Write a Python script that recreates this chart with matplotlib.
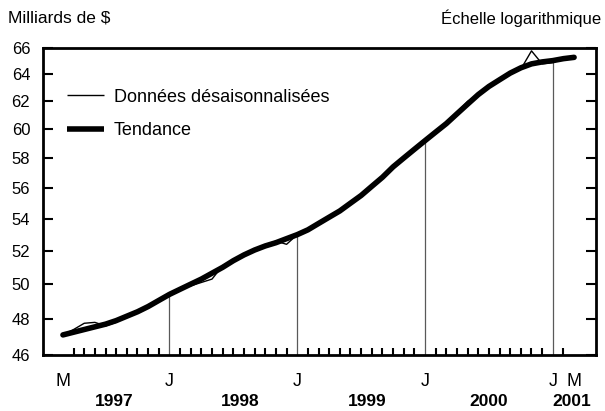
import matplotlib
matplotlib.use("Agg")
import matplotlib.pyplot as plt
import matplotlib.ticker as mticker
import matplotlib.transforms as mtransforms
import numpy as np

plt.rcParams['font.family'] = ['Liberation Sans', 'DejaVu Sans']

# monthly data, March 1997 (0) to March 2001 (48), billions of $
months = np.arange(49)
raw = [47.1, 47.4, 47.75, 47.8, 47.6, 47.8, 48.2, 48.4, 48.75, 49.0,
       49.5, 49.75, 49.9, 50.1, 50.3, 51.1, 51.4, 51.8, 52.0, 52.35,
       52.6, 52.4, 53.0, 53.3, 53.6, 54.1, 54.5, 55.0, 55.5, 56.1,
       56.7, 57.5, 58.0, 58.6, 59.2, 59.8, 60.4, 61.2, 62.0, 62.5,
       63.1, 63.7, 64.0, 64.4, 65.8, 64.8, 64.9, 65.2, 65.3]
trend = [47.1, 47.25, 47.4, 47.55, 47.7, 47.9, 48.15, 48.4, 48.7, 49.05,
         49.4, 49.7, 50.0, 50.3, 50.65, 51.0, 51.4, 51.75, 52.05, 52.3,
         52.5, 52.75, 53.0, 53.3, 53.7, 54.1, 54.5, 55.0, 55.5, 56.1,
         56.7, 57.4, 58.0, 58.6, 59.2, 59.8, 60.4, 61.1, 61.8, 62.5,
         63.1, 63.6, 64.1, 64.5, 64.8, 64.95, 65.05, 65.2, 65.3]

tick_months = [0, 10, 22, 34, 46, 48]
tick_labels = ['M', 'J', 'J', 'J', 'J', 'M']
january = [10, 22, 34, 46]
years = ['1997', '1998', '1999', '2000', '2001']
year_pos = [4.8, 16.6, 28.6, 40.0, 47.8]
yticks = [46, 48, 50, 52, 54, 56, 58, 60, 62, 64, 66]

fig = plt.figure(figsize=(6.05, 4.11), dpi=100)
ax = fig.add_axes([0.0706, 0.1363, 0.9144, 0.7462])

# vertical january lines, up to the trend
ax.vlines(january, 46, [trend[m] for m in january], color='0.35', lw=0.9, zorder=1)
ax.plot(months, trend, color='black', lw=4.0, solid_capstyle='round',
        label='Tendance', zorder=2)
ax.plot(months, raw, color='black', lw=1.0, label='Données désaisonnalisées', zorder=3)

ax.set_yscale('log')
ax.set_ylim(46, 66)
ax.set_xlim(-1.9, 50.05)
ax.yaxis.set_major_locator(mticker.FixedLocator(yticks))
ax.yaxis.set_major_formatter(mticker.FixedFormatter([str(v) for v in yticks]))
ax.yaxis.set_minor_locator(mticker.NullLocator())

ax.set_xticks(tick_months)
ax.set_xticklabels(tick_labels)
ax.set_xticks(months, minor=True)

for s in ax.spines.values():
    s.set_linewidth(2.0)
ax.tick_params(axis='y', which='major', direction='in', length=7, width=1.5,
               left=True, right=True, labelsize=12, pad=9)
ax.tick_params(axis='x', which='major', direction='in', length=0, labelsize=13, pad=13)
ax.tick_params(axis='x', which='minor', direction='in', length=5, width=1.5, bottom=True)

trans = mtransforms.blended_transform_factory(ax.transData, ax.transAxes)
for lab, xp in zip(years, year_pos):
    ax.text(xp, -0.152, lab, transform=trans, ha='center', va='center',
            fontsize=12.5, fontweight='bold')

fig.text(0.013, 0.955, 'Milliards de $', ha='left', va='center', fontsize=12.5)
fig.text(0.993, 0.955, 'Échelle logarithmique', ha='right', va='center', fontsize=12)

h, l = ax.get_legend_handles_labels()
leg = ax.legend(h[::-1], l[::-1], loc='upper left', bbox_to_anchor=(0.017, 0.915),
                frameon=False, fontsize=13, handlelength=2.05, labelspacing=0.9,
                handletextpad=0.55, borderpad=0.3)
for line in leg.get_lines():
    line.set_solid_capstyle('butt')

fig.savefig('out.png', dpi=100)
